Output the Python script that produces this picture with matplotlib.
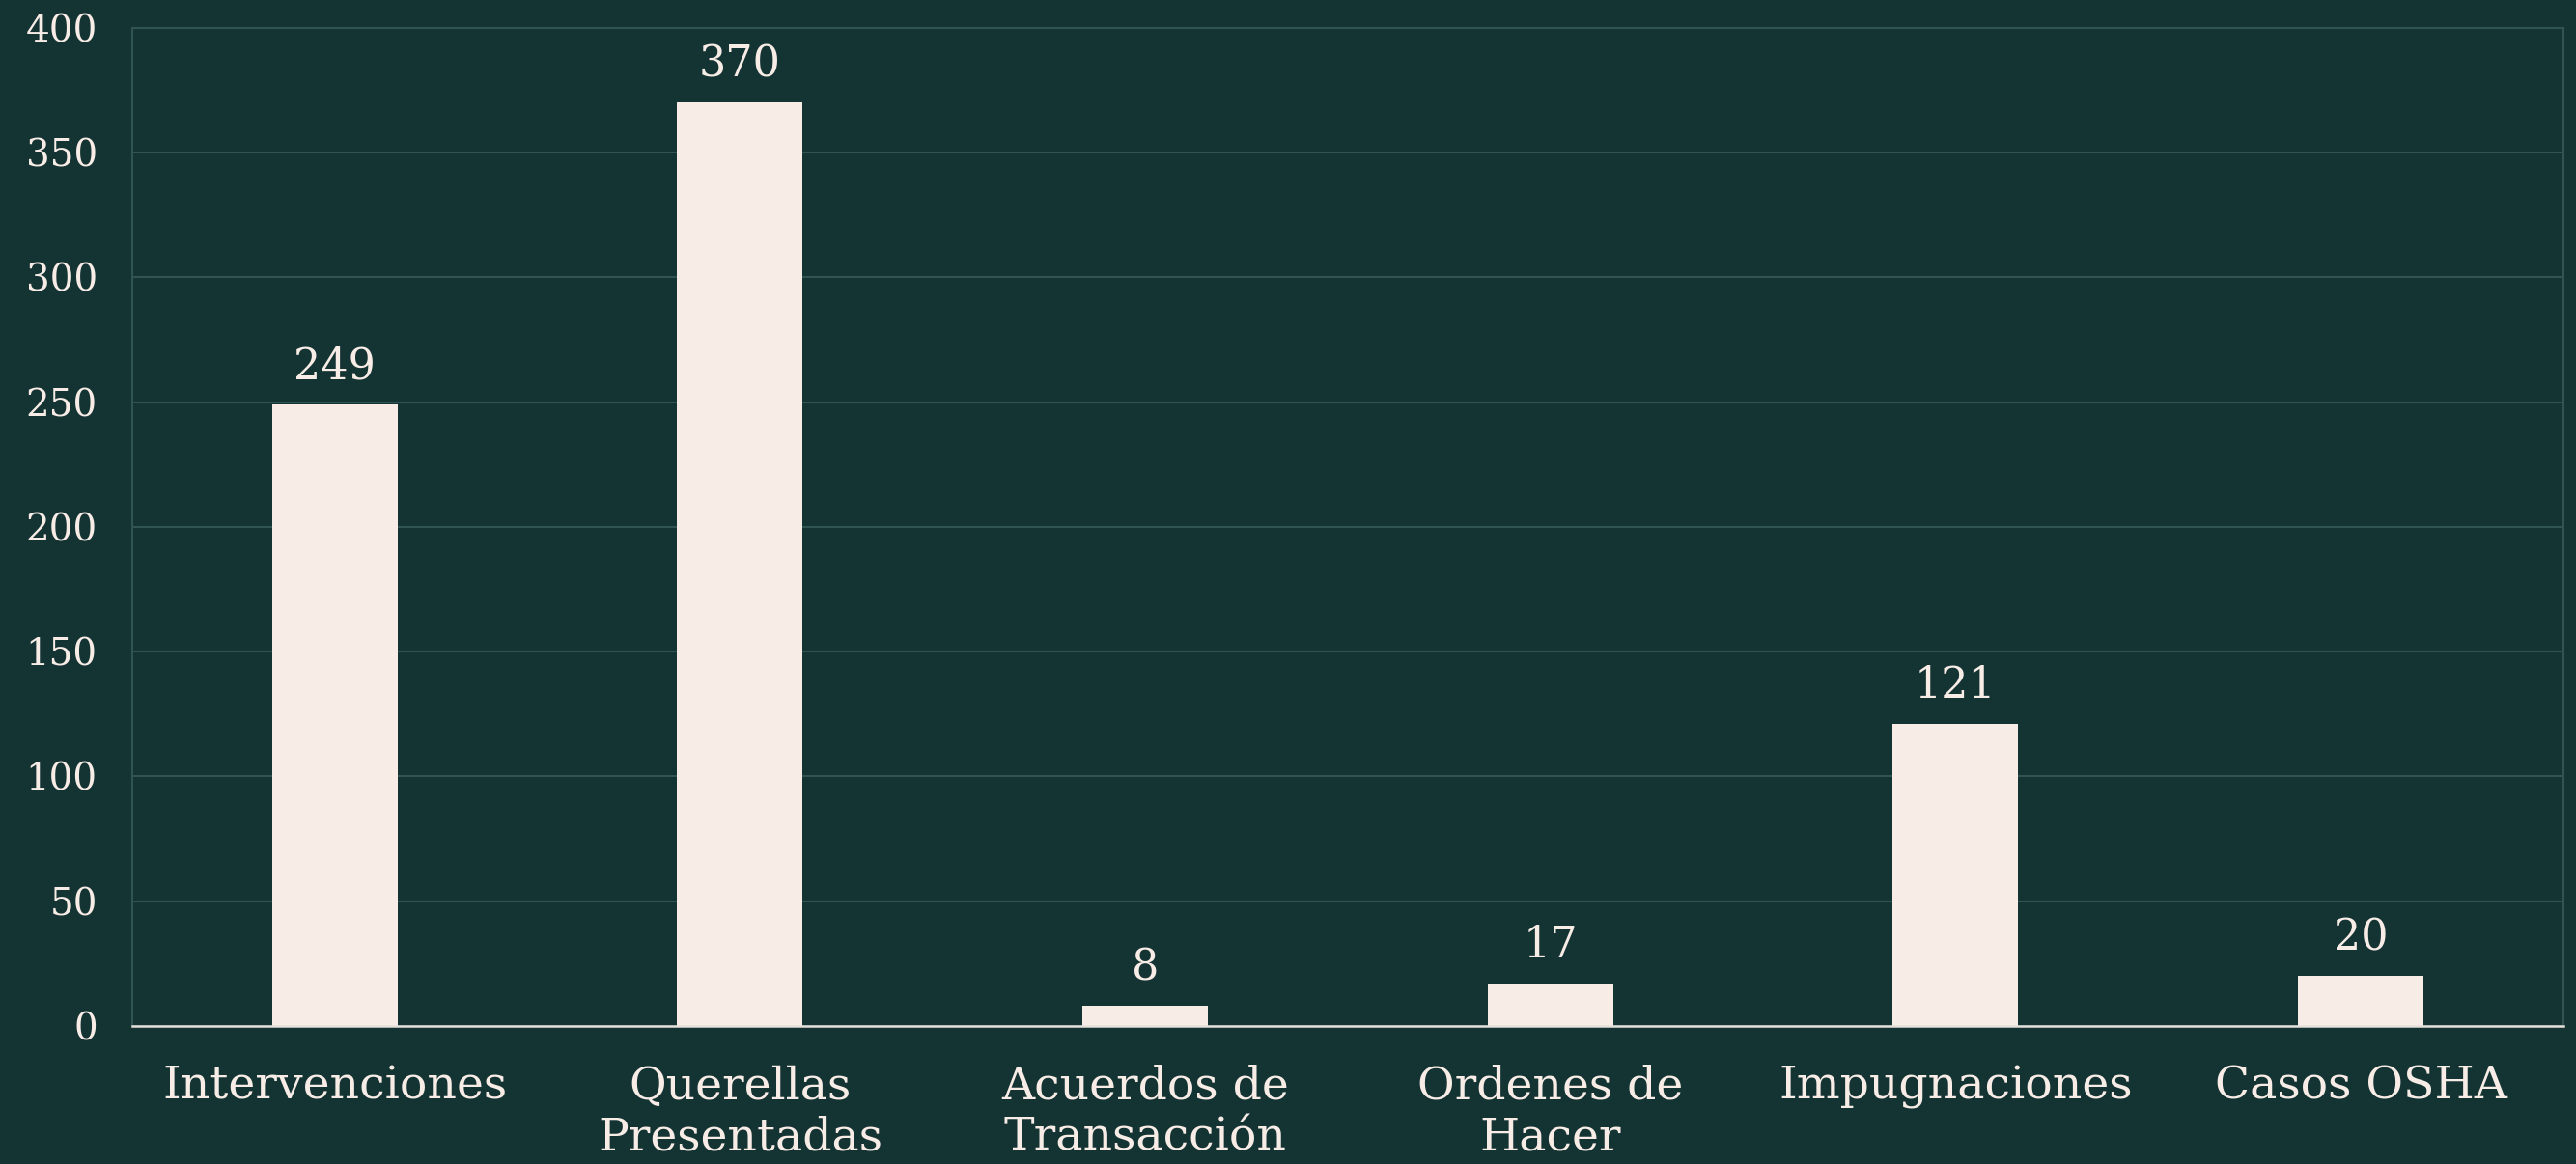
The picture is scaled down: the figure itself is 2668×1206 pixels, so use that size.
import matplotlib
matplotlib.use("Agg")
import matplotlib.pyplot as plt
import numpy as np

categories = ["Intervenciones", "Querellas\nPresentadas", "Acuerdos de\nTransacción",
              "Ordenes de\nHacer", "Impugnaciones", "Casos OSHA"]
values = [249, 370, 8, 17, 121, 20]
y_ticks = [0, 50, 100, 150, 200, 250, 300, 350, 400]

bg = "#143333"
cream = "#f7ece6"
grid_col = "#2f5452"

plt.rcParams["font.family"] = ["DejaVu Serif"]

fig = plt.figure(figsize=(26.68, 12.06), dpi=100, facecolor=bg)
ax = fig.add_axes([0.0513, 0.1186, 0.9438, 0.8574])
ax.set_facecolor(bg)

x = np.arange(len(categories))
bars = ax.bar(x, values, width=0.31, color=cream, zorder=3)

# value labels above bars
for b, v in zip(bars, values):
    ax.annotate(str(v), (b.get_x() + b.get_width() / 2, v), xytext=(0, 13),
                textcoords="offset points", ha="center", va="bottom",
                fontsize=32, color=cream)

ax.set_xlim(-0.5, len(categories) - 0.5)
ax.set_ylim(0, 400)
ax.set_yticks(y_ticks)
ax.set_xticks(x)
ax.set_xticklabels(categories, fontsize=34, color=cream, linespacing=1.22)
ax.tick_params(axis="x", length=0, pad=29)
ax.tick_params(axis="y", length=0, pad=26, labelsize=28, labelcolor=cream)

ax.yaxis.grid(True, color=grid_col, linewidth=1.5, zorder=0)
for side in ["left", "top", "right"]:
    ax.spines[side].set_color(grid_col)
    ax.spines[side].set_linewidth(1.5)
ax.spines["bottom"].set_color("#e6e0da")
ax.spines["bottom"].set_linewidth(1.8)
ax.spines["bottom"].set_zorder(4)

fig.savefig("out.png", dpi=100, facecolor=bg)
